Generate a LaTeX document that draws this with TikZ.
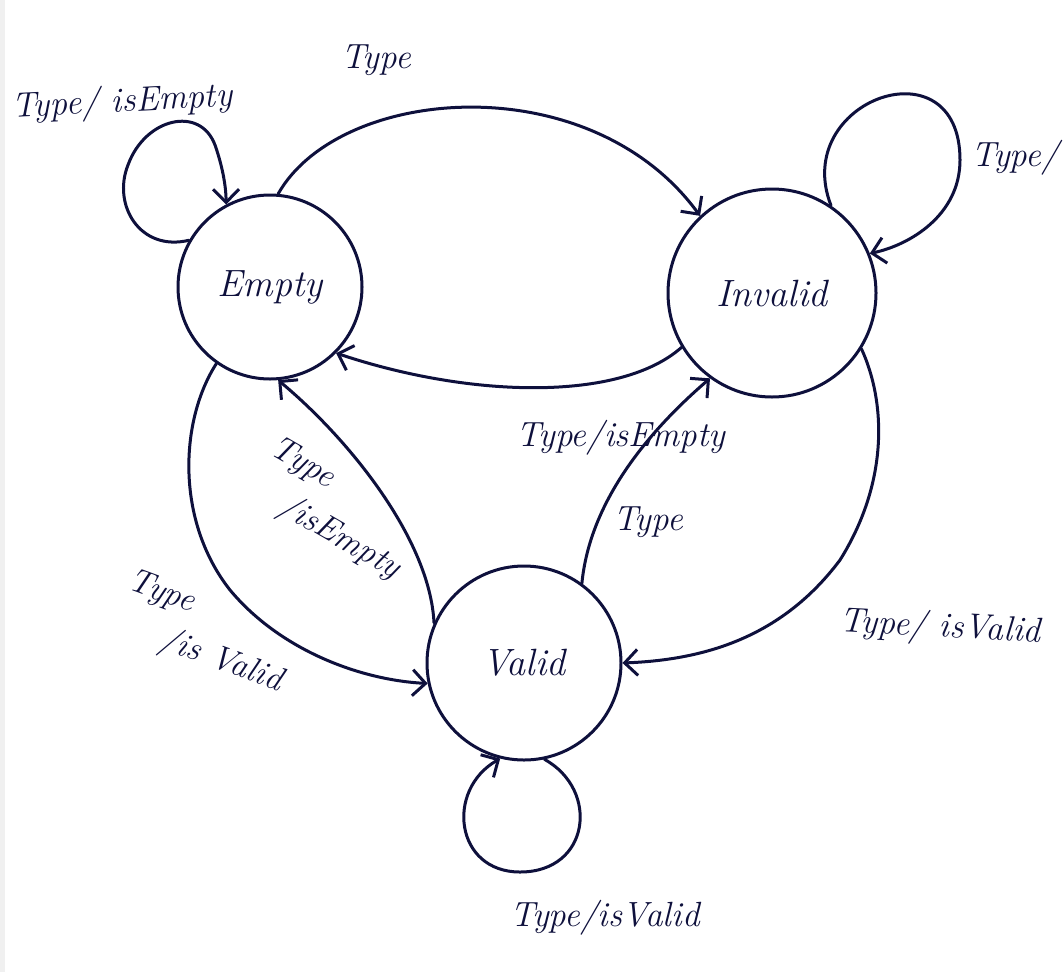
\documentclass[tikz,border=0pt]{standalone}
\usetikzlibrary{arrows.meta}
\definecolor{ink}{RGB}{14,16,60}
\begin{document}
\begin{tikzpicture}[x=1pt,y=-1pt,
  state/.style={circle, draw=ink, line width=3pt, inner sep=0pt, font=\fontsize{38}{42}\selectfont\itshape, text=ink},
  lbl/.style={font=\fontsize{35}{38}\selectfont\itshape, text=ink, inner sep=1pt},
  edge/.style={draw=ink, line width=3pt, line cap=round, line join=round, -{Straight Barb[length=13pt,width=26pt]}}]
\useasboundingbox (0,0) rectangle (1064,972);
\fill[gray!12] (0,0) rectangle (5,972);

\node[state, minimum size=184pt] (E) at (270,287) {Empty};
\node[state, minimum size=208pt] (I) at (772,293) {Invalid};
\node[state, minimum size=194pt] (V) at (524,663) {Valid};

% self loops
\draw[edge] (E.150) .. controls (140,252) and (112,205) .. (128,165)
  .. controls (145,118) and (200,105) .. (215,145)
  .. controls (222,165) and (226,185) .. (E.118);
\draw[edge] (I.56) .. controls (790,100) and (960,40) .. (960,160)
  .. controls (960,215) and (910,245) .. (I.22);
\draw[edge] (V.282) .. controls (600,790) and (590,872) .. (520,872)
  .. controls (455,872) and (445,790) .. (V.256);

% transitions
\draw[edge] (E.85) .. controls (340,85) and (590,65) .. (I.133);
\draw[edge] (I.211) .. controls (620,402) and (470,398) .. (E.315);
\draw[edge] (V.156) .. controls (430,540) and (350,440) .. (E.275);
\draw[edge] (V.54) .. controls (590,500) and (650,430) .. (I.234);
\draw[edge] (E.235) .. controls (180,420) and (175,520) .. (230,590)
  .. controls (280,650) and (360,680) .. (V.192);
\draw[edge] (I.328) .. controls (885,400) and (890,480) .. (840,560)
  .. controls (780,640) and (700,660) .. (V.0);

% labels
\node[lbl, rotate=3] (l1) at (122,103) {Type/ isEmpty};
\node[lbl] (l2) at (376,60) {Type};
\node[lbl, anchor=west] (l3) at (970,158) {Type/};
\node[lbl] (l4) at (621,438) {Type/isEmpty};
\node[lbl, rotate=-30, align=left, font=\fontsize{34}{46}\selectfont\itshape] (l5) at (335,510) {Type\\\hspace{36pt}/isEmpty};
\node[lbl] (l7) at (648,522) {Type};
\node[lbl, rotate=-20, align=left, font=\fontsize{34}{44}\selectfont\itshape] (l8) at (205,633) {Type\\\hspace{50pt}/is Valid};
\node[lbl, rotate=-3] (l10) at (940,628) {Type/ isValid};
\node[lbl] (l11) at (605,918) {Type/isValid};
\end{tikzpicture}
\end{document}
